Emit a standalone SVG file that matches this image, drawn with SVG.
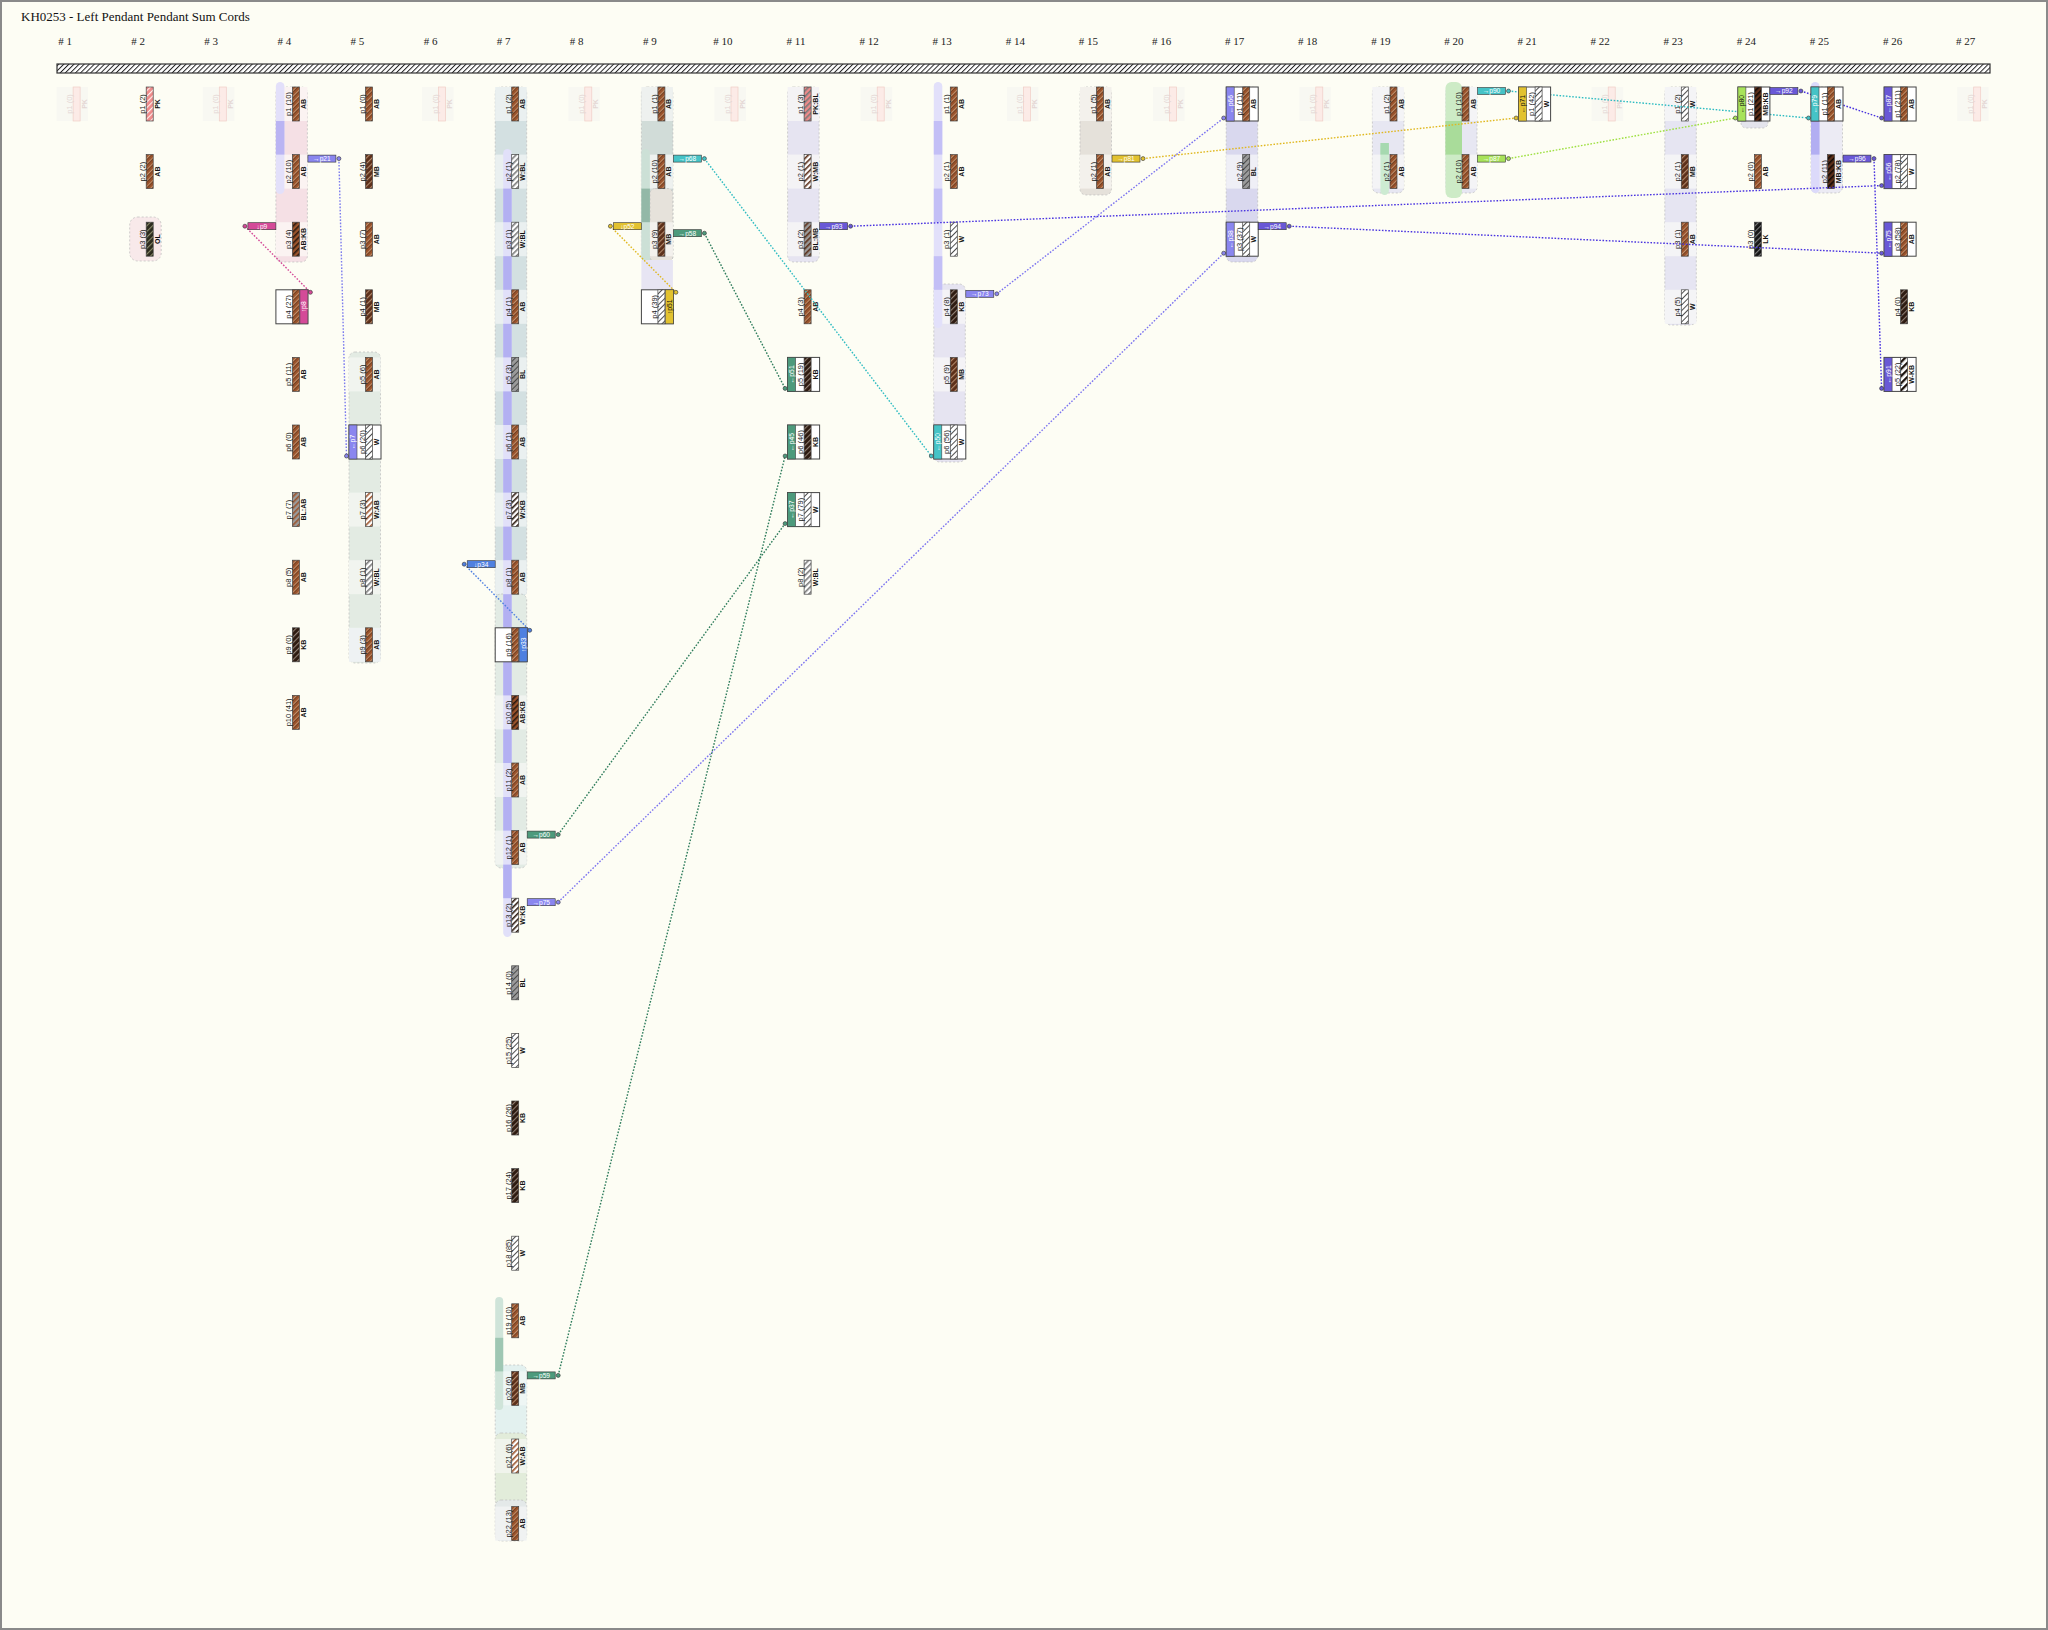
<svg xmlns="http://www.w3.org/2000/svg" width="2048" height="1630" viewBox="0 0 2048 1630">
<style>
.title{font:13px "Liberation Serif",serif;fill:#111}
.hdr{font:11px "Liberation Serif",serif;fill:#222;text-anchor:middle}
.pl{font:7.5px "Liberation Sans","DejaVu Sans",sans-serif;fill:#222;text-anchor:middle}
.cl{font:bold 7px "Liberation Sans","DejaVu Sans",sans-serif;fill:#111;text-anchor:middle}
.fz{fill:#e4d6d4}
.cord{stroke:#444;stroke-width:0.7}
.fcord{fill:#fcebe7;stroke:#f0cdc6;stroke-width:0.7}
.fbg{fill:#f8f8f2}
.box{fill:#fff;stroke:#444;stroke-width:1}
.band{stroke:#444;stroke-width:0.6}
.bt{font:6.8px "Liberation Sans","DejaVu Sans",sans-serif;fill:#fff;text-anchor:middle}
.bk{fill:#111}
.grp{stroke:#bcbcbc;stroke-width:0.7;stroke-dasharray:2 2}
.lab{stroke:#333;stroke-width:0.6}
.lt{font:6.6px "Liberation Sans","DejaVu Sans",sans-serif;fill:#fff;text-anchor:middle}
.conn line{fill:none;stroke-width:1.4;stroke-dasharray:1.6 1.6}
.dot{stroke:#333;stroke-width:0.6}
</style>
<defs>
<pattern id="pBar" width="3.6" height="3.6" patternUnits="userSpaceOnUse" patternTransform="rotate(45)"><rect width="3.6" height="3.6" fill="#fff"/><rect width="1" height="3.6" fill="#222"/></pattern>
<pattern id="pAB" width="4" height="4" patternUnits="userSpaceOnUse" patternTransform="rotate(45)"><rect width="4" height="4" fill="#9a532c"/><rect width="0.9" height="4" fill="#d9a47c"/><rect x="0.9" width="0.5" height="4" fill="#3a2010"/></pattern>
<pattern id="pMB" width="4" height="4" patternUnits="userSpaceOnUse" patternTransform="rotate(45)"><rect width="4" height="4" fill="#5c2f19"/><rect width="1.1" height="4" fill="#b38a6c"/></pattern>
<pattern id="pKB" width="4" height="4" patternUnits="userSpaceOnUse" patternTransform="rotate(45)"><rect width="4" height="4" fill="#2d1a10"/><rect width="1.1" height="4" fill="#8f7f74"/></pattern>
<pattern id="pW" width="4" height="4" patternUnits="userSpaceOnUse" patternTransform="rotate(45)"><rect width="4" height="4" fill="#fff"/><rect width="0.9" height="4" fill="#3a3a3a"/></pattern>
<pattern id="pBL" width="4" height="4" patternUnits="userSpaceOnUse" patternTransform="rotate(45)"><rect width="4" height="4" fill="#9a9a9a"/><rect width="1" height="4" fill="#4a4a4a"/></pattern>
<pattern id="pPK" width="4" height="4" patternUnits="userSpaceOnUse" patternTransform="rotate(45)"><rect width="4" height="4" fill="#ee8a8a"/><rect width="1.1" height="4" fill="#fff1ee"/></pattern>
<pattern id="pOL" width="4" height="4" patternUnits="userSpaceOnUse" patternTransform="rotate(45)"><rect width="4" height="4" fill="#2b2a1d"/><rect width="1.1" height="4" fill="#8d8c6c"/></pattern>
<pattern id="pLK" width="4" height="4" patternUnits="userSpaceOnUse" patternTransform="rotate(45)"><rect width="4" height="4" fill="#161616"/><rect width="1.1" height="4" fill="#7c7c7c"/></pattern>
<pattern id="pABKB" width="4" height="4" patternUnits="userSpaceOnUse" patternTransform="rotate(45)"><rect width="4" height="4" fill="#9a532c"/><rect width="1.6" height="4" fill="#2d1a10"/></pattern>
<pattern id="pBLAB" width="4" height="4" patternUnits="userSpaceOnUse" patternTransform="rotate(45)"><rect width="4" height="4" fill="#9a9a9a"/><rect width="1.6" height="4" fill="#9a532c"/></pattern>
<pattern id="pWAB" width="4" height="4" patternUnits="userSpaceOnUse" patternTransform="rotate(45)"><rect width="4" height="4" fill="#fff"/><rect width="1.6" height="4" fill="#9a532c"/></pattern>
<pattern id="pWBL" width="4" height="4" patternUnits="userSpaceOnUse" patternTransform="rotate(45)"><rect width="4" height="4" fill="#fff"/><rect width="1.6" height="4" fill="#7a7a7a"/></pattern>
<pattern id="pWKB" width="4" height="4" patternUnits="userSpaceOnUse" patternTransform="rotate(45)"><rect width="4" height="4" fill="#fff"/><rect width="1.6" height="4" fill="#2d1a10"/></pattern>
<pattern id="pPKBL" width="4" height="4" patternUnits="userSpaceOnUse" patternTransform="rotate(45)"><rect width="4" height="4" fill="#ee8a8a"/><rect width="1.6" height="4" fill="#7a7a7a"/></pattern>
<pattern id="pWMB" width="4" height="4" patternUnits="userSpaceOnUse" patternTransform="rotate(45)"><rect width="4" height="4" fill="#fff"/><rect width="1.6" height="4" fill="#5c2f19"/></pattern>
<pattern id="pBLMB" width="4" height="4" patternUnits="userSpaceOnUse" patternTransform="rotate(45)"><rect width="4" height="4" fill="#9a9a9a"/><rect width="1.6" height="4" fill="#5c2f19"/></pattern>
<pattern id="pMBKB" width="4" height="4" patternUnits="userSpaceOnUse" patternTransform="rotate(45)"><rect width="4" height="4" fill="#5c2f19"/><rect width="1.6" height="4" fill="#120a06"/></pattern>
<pattern id="pWdKB" width="5" height="5" patternUnits="userSpaceOnUse" patternTransform="rotate(45)"><rect width="5" height="5" fill="#fff"/><rect width="2.3" height="5" fill="#1a100a"/></pattern>
</defs>

<rect x="1" y="1" width="2046" height="1628" fill="#fdfdf4" stroke="#8a8a8a" stroke-width="2"/>
<text class="title" x="21" y="21">KH0253 - Left Pendant Pendant Sum Cords</text>

<g id="headers">
<text class="hdr" x="65" y="45"># 1</text><text class="hdr" x="138.1" y="45"># 2</text><text class="hdr" x="211.2" y="45"># 3</text><text class="hdr" x="284.3" y="45"># 4</text><text class="hdr" x="357.4" y="45"># 5</text><text class="hdr" x="430.5" y="45"># 6</text><text class="hdr" x="503.6" y="45"># 7</text><text class="hdr" x="576.7" y="45"># 8</text><text class="hdr" x="649.8" y="45"># 9</text><text class="hdr" x="722.9" y="45"># 10</text><text class="hdr" x="796" y="45"># 11</text><text class="hdr" x="869.1" y="45"># 12</text><text class="hdr" x="942.2" y="45"># 13</text><text class="hdr" x="1015.3" y="45"># 14</text><text class="hdr" x="1088.4" y="45"># 15</text><text class="hdr" x="1161.5" y="45"># 16</text><text class="hdr" x="1234.6" y="45"># 17</text><text class="hdr" x="1307.7" y="45"># 18</text><text class="hdr" x="1380.8" y="45"># 19</text><text class="hdr" x="1453.9" y="45"># 20</text><text class="hdr" x="1527" y="45"># 21</text><text class="hdr" x="1600.1" y="45"># 22</text><text class="hdr" x="1673.2" y="45"># 23</text><text class="hdr" x="1746.3" y="45"># 24</text><text class="hdr" x="1819.4" y="45"># 25</text><text class="hdr" x="1892.5" y="45"># 26</text><text class="hdr" x="1965.6" y="45"># 27</text>
</g>

<rect id="primary-cord" x="57" y="64" width="1933" height="9" fill="url(#pBar)" stroke="#333" stroke-width="1.2"/>

<g id="backgrounds">
<rect class="grp" x="129.7" y="217" width="31.5" height="44" rx="8" fill="#f8e9ea"/>
<rect class="grp" x="275.9" y="87" width="31.5" height="175" rx="6" fill="#f5e0e5"/>
<rect x="275.9" y="87" width="31.5" height="34" fill="#fbf3f2"/><rect x="275.9" y="154.6" width="31.5" height="34" fill="#fbf3f2"/><rect x="275.9" y="222.2" width="31.5" height="34" fill="#fbf3f2"/>
<rect x="275.9" y="82" width="8.5" height="112" rx="4.2" fill="#e3e0fa"/><rect x="275.9" y="121" width="8.5" height="33.6" fill="#bab4f3"/>
<rect class="grp" x="349" y="352" width="31.5" height="311" rx="6" fill="#e3ebe3"/>
<rect x="349" y="357.4" width="31.5" height="34" fill="#f1f4ef"/><rect x="349" y="492.6" width="31.5" height="34" fill="#f1f4ef"/><rect x="349" y="560.2" width="31.5" height="34" fill="#f1f4ef"/><rect x="349" y="627.8" width="31.5" height="34" fill="#eef2f3"/>
<rect class="grp" x="495.2" y="87" width="31.5" height="510" rx="6" fill="#d3e0e1"/>
<rect x="495.2" y="87" width="31.5" height="34" fill="#eaf0f0"/><rect x="495.2" y="154.6" width="31.5" height="34" fill="#eaf0f0"/><rect x="495.2" y="222.2" width="31.5" height="34" fill="#eaf0f0"/><rect x="495.2" y="289.8" width="31.5" height="34" fill="#eaf0f0"/><rect x="495.2" y="357.4" width="31.5" height="34" fill="#eaf0f0"/><rect x="495.2" y="425" width="31.5" height="34" fill="#eaf0f0"/><rect x="495.2" y="492.6" width="31.5" height="34" fill="#eaf0f0"/><rect x="495.2" y="560.2" width="31.5" height="34" fill="#eaf0f0"/>
<rect class="grp" x="495.2" y="594" width="31.5" height="274" rx="6" fill="#e2ebe4"/>
<rect x="495.2" y="695.4" width="31.5" height="34" fill="#f1f4f0"/><rect x="495.2" y="763" width="31.5" height="34" fill="#f1f4f0"/><rect x="495.2" y="830.6" width="31.5" height="34" fill="#f1f4f0"/>
<rect x="503.2" y="149" width="8.5" height="788" rx="4.2" fill="#e1e0f9"/>
<rect x="503.2" y="188.6" width="8.5" height="33.6" fill="#b3b0f2"/><rect x="503.2" y="256.2" width="8.5" height="33.6" fill="#b3b0f2"/><rect x="503.2" y="323.8" width="8.5" height="33.6" fill="#b3b0f2"/><rect x="503.2" y="391.4" width="8.5" height="33.6" fill="#b3b0f2"/><rect x="503.2" y="459" width="8.5" height="33.6" fill="#b3b0f2"/><rect x="503.2" y="526.6" width="8.5" height="33.6" fill="#b3b0f2"/><rect x="503.2" y="594.2" width="8.5" height="33.6" fill="#b3b0f2"/><rect x="503.2" y="661.8" width="8.5" height="33.6" fill="#b3b0f2"/><rect x="503.2" y="729.4" width="8.5" height="33.6" fill="#b3b0f2"/><rect x="503.2" y="797" width="8.5" height="33.6" fill="#b3b0f2"/><rect x="503.2" y="864.6" width="8.5" height="33.6" fill="#b3b0f2"/>
<rect class="grp" x="495.2" y="1365" width="31.5" height="74" rx="6" fill="#e3f1ef"/><rect x="495.2" y="1371.4" width="31.5" height="34" fill="#eef6f4"/>
<rect class="grp" x="495.2" y="1433" width="31.5" height="73" rx="6" fill="#e2ecda"/><rect x="495.2" y="1439" width="31.5" height="34" fill="#f0f4ec"/>
<rect class="grp" x="495.2" y="1500" width="31.5" height="41" rx="6" fill="#e4e9e9"/><rect x="495.2" y="1506.6" width="31.5" height="34" fill="#f0f2f2"/>
<rect x="495.2" y="1297" width="8" height="113" rx="4" fill="#cfe4d9"/><rect x="495.2" y="1337.8" width="8" height="33.6" fill="#9fc7b3"/>
<rect class="grp" x="641.4" y="87" width="31.5" height="175" rx="6" fill="#d1dcd8"/>
<rect x="641.4" y="87" width="31.5" height="34" fill="#eef1ef"/><rect x="641.4" y="154.6" width="31.5" height="34" fill="#eef1ef"/><rect x="641.4" y="222.2" width="31.5" height="34" fill="#eef1ef"/>
<rect class="grp" x="650" y="188.6" width="22.9" height="73" rx="5" fill="#e6e2db"/><rect x="650" y="222.2" width="22.9" height="34" fill="#f3f1ed"/>
<rect x="641.4" y="149" width="8.5" height="113" rx="4.2" fill="#cce0d6"/><rect x="641.4" y="188.6" width="8.5" height="33.6" fill="#93b8a7"/>
<rect x="641.4" y="260" width="31.5" height="30" fill="#e7e5f3"/>
<rect class="grp" x="787.6" y="87" width="31.5" height="175" rx="6" fill="#e6e4f1"/>
<rect x="787.6" y="87" width="31.5" height="34" fill="#f4f3f5"/><rect x="787.6" y="154.6" width="31.5" height="34" fill="#f4f3f5"/><rect x="787.6" y="222.2" width="31.5" height="34" fill="#f4f3f5"/>
<rect class="grp" x="933.8" y="284" width="31.5" height="178" rx="6" fill="#e6e4f1"/>
<rect x="933.8" y="289.8" width="31.5" height="34" fill="#f4f3f6"/><rect x="933.8" y="357.4" width="31.5" height="34" fill="#f4f3f6"/>
<rect x="933.8" y="82" width="8.5" height="246" rx="4.2" fill="#e2e0fa"/>
<rect x="933.8" y="121" width="8.5" height="33.6" fill="#c3bff6"/><rect x="933.8" y="188.6" width="8.5" height="33.6" fill="#c3bff6"/><rect x="933.8" y="256.2" width="8.5" height="33.6" fill="#c3bff6"/>
<rect class="grp" x="1080" y="87" width="31.5" height="108" rx="6" fill="#e5e1da"/>
<rect x="1080" y="87" width="31.5" height="34" fill="#f3f1ec"/><rect x="1080" y="154.6" width="31.5" height="34" fill="#f3f1ec"/>
<rect class="grp" x="1226.2" y="87" width="31.5" height="175" rx="6" fill="#d9d8ee"/>
<rect x="1226.2" y="154.6" width="31.5" height="34" fill="#efeff6"/>
<rect class="grp" x="1372.4" y="87" width="31.5" height="106" rx="6" fill="#e7e7f2"/>
<rect x="1372.4" y="87" width="31.5" height="34" fill="#f4f4f6"/><rect x="1372.4" y="154.6" width="31.5" height="34" fill="#f4f4f6"/>
<rect x="1380.4" y="143" width="8.5" height="52" rx="4.2" fill="#cdebd2"/><rect x="1380.4" y="143" width="8.5" height="11.6" fill="#a6d9b0"/>
<rect class="grp" x="1445.5" y="87" width="31.5" height="106" rx="6" fill="#e7e7f2"/>
<rect x="1445.5" y="87" width="31.5" height="34" fill="#f4f4f6"/><rect x="1445.5" y="154.6" width="31.5" height="34" fill="#f4f4f6"/>
<rect x="1445.5" y="82" width="16.5" height="116" rx="6" fill="#cdebc6"/><rect x="1445.5" y="121" width="16.5" height="33.6" fill="#a9dc9a"/>
<rect class="grp" x="1664.8" y="87" width="31.5" height="238" rx="6" fill="#e6e5f2"/>
<rect x="1664.8" y="87" width="31.5" height="34" fill="#f4f4f6"/><rect x="1664.8" y="154.6" width="31.5" height="34" fill="#f4f4f6"/><rect x="1664.8" y="222.2" width="31.5" height="34" fill="#f4f4f6"/><rect x="1664.8" y="289.8" width="31.5" height="34" fill="#f4f4f6"/>
<rect class="grp" x="1741" y="117" width="27" height="11" rx="5" fill="#e4e4ec"/>
<rect class="grp" x="1811" y="87" width="31.5" height="106" rx="6" fill="#ecebf4"/>
<rect x="1811" y="82" width="8.5" height="111" rx="4.2" fill="#dcdafa"/><rect x="1811" y="121" width="8.5" height="33.6" fill="#b2aef2"/>
</g>

<g id="faded">
<g id="n1-1" transform="translate(76.6,87)"><rect class="fbg" x="-20" width="31.5" height="34"/><rect class="fcord" x="-3.5" width="7" height="34"/><text class="pl fz" transform="translate(-4.5,17) rotate(-90)">p1 (0)</text><text class="cl fz" transform="translate(10,17) rotate(-90)">PK</text></g>
<g id="n3-1" transform="translate(222.8,87)"><rect class="fbg" x="-20" width="31.5" height="34"/><rect class="fcord" x="-3.5" width="7" height="34"/><text class="pl fz" transform="translate(-4.5,17) rotate(-90)">p1 (0)</text><text class="cl fz" transform="translate(10,17) rotate(-90)">PK</text></g>
<g id="n6-1" transform="translate(442.1,87)"><rect class="fbg" x="-20" width="31.5" height="34"/><rect class="fcord" x="-3.5" width="7" height="34"/><text class="pl fz" transform="translate(-4.5,17) rotate(-90)">p1 (0)</text><text class="cl fz" transform="translate(10,17) rotate(-90)">PK</text></g>
<g id="n8-1" transform="translate(588.3,87)"><rect class="fbg" x="-20" width="31.5" height="34"/><rect class="fcord" x="-3.5" width="7" height="34"/><text class="pl fz" transform="translate(-4.5,17) rotate(-90)">p1 (0)</text><text class="cl fz" transform="translate(10,17) rotate(-90)">PK</text></g>
<g id="n10-1" transform="translate(734.5,87)"><rect class="fbg" x="-20" width="31.5" height="34"/><rect class="fcord" x="-3.5" width="7" height="34"/><text class="pl fz" transform="translate(-4.5,17) rotate(-90)">p1 (0)</text><text class="cl fz" transform="translate(10,17) rotate(-90)">PK</text></g>
<g id="n12-1" transform="translate(880.7,87)"><rect class="fbg" x="-20" width="31.5" height="34"/><rect class="fcord" x="-3.5" width="7" height="34"/><text class="pl fz" transform="translate(-4.5,17) rotate(-90)">p1 (0)</text><text class="cl fz" transform="translate(10,17) rotate(-90)">PK</text></g>
<g id="n14-1" transform="translate(1026.9,87)"><rect class="fbg" x="-20" width="31.5" height="34"/><rect class="fcord" x="-3.5" width="7" height="34"/><text class="pl fz" transform="translate(-4.5,17) rotate(-90)">p1 (0)</text><text class="cl fz" transform="translate(10,17) rotate(-90)">PK</text></g>
<g id="n16-1" transform="translate(1173.1,87)"><rect class="fbg" x="-20" width="31.5" height="34"/><rect class="fcord" x="-3.5" width="7" height="34"/><text class="pl fz" transform="translate(-4.5,17) rotate(-90)">p1 (0)</text><text class="cl fz" transform="translate(10,17) rotate(-90)">PK</text></g>
<g id="n18-1" transform="translate(1319.3,87)"><rect class="fbg" x="-20" width="31.5" height="34"/><rect class="fcord" x="-3.5" width="7" height="34"/><text class="pl fz" transform="translate(-4.5,17) rotate(-90)">p1 (0)</text><text class="cl fz" transform="translate(10,17) rotate(-90)">PK</text></g>
<g id="n22-1" transform="translate(1611.7,87)"><rect class="fbg" x="-20" width="31.5" height="34"/><rect class="fcord" x="-3.5" width="7" height="34"/><text class="pl fz" transform="translate(-4.5,17) rotate(-90)">p1 (0)</text><text class="cl fz" transform="translate(10,17) rotate(-90)">PK</text></g>
<g id="n27-1" transform="translate(1977.2,87)"><rect class="fbg" x="-20" width="31.5" height="34"/><rect class="fcord" x="-3.5" width="7" height="34"/><text class="pl fz" transform="translate(-4.5,17) rotate(-90)">p1 (0)</text><text class="cl fz" transform="translate(10,17) rotate(-90)">PK</text></g>
</g>

<g id="pendants">
<g id="n2-1" transform="translate(149.7,87)"><rect class="cord" x="-3.5" width="7" height="34" fill="url(#pPK)"/><text class="pl" transform="translate(-4.5,17) rotate(-90)">p1 (2)</text><text class="cl" transform="translate(10,17) rotate(-90)">PK</text></g>
<g id="n2-2" transform="translate(149.7,154.6)"><rect class="cord" x="-3.5" width="7" height="34" fill="url(#pAB)"/><text class="pl" transform="translate(-4.5,17) rotate(-90)">p2 (2)</text><text class="cl" transform="translate(10,17) rotate(-90)">AB</text></g>
<g id="n2-3" transform="translate(149.7,222.2)"><rect class="cord" x="-3.5" width="7" height="34" fill="url(#pOL)"/><text class="pl" transform="translate(-4.5,17) rotate(-90)">p3 (3)</text><text class="cl" transform="translate(10,17) rotate(-90)">OL</text></g>
<g id="n4-1" transform="translate(295.9,87)"><rect class="cord" x="-3.5" width="7" height="34" fill="url(#pAB)"/><text class="pl" transform="translate(-4.5,17) rotate(-90)">p1 (10)</text><text class="cl" transform="translate(10,17) rotate(-90)">AB</text></g>
<g id="n4-2" transform="translate(295.9,154.6)"><rect class="cord" x="-3.5" width="7" height="34" fill="url(#pAB)"/><text class="pl" transform="translate(-4.5,17) rotate(-90)">p2 (10)</text><text class="cl" transform="translate(10,17) rotate(-90)">AB</text></g>
<g id="n4-3" transform="translate(295.9,222.2)"><rect class="cord" x="-3.5" width="7" height="34" fill="url(#pABKB)"/><text class="pl" transform="translate(-4.5,17) rotate(-90)">p3 (4)</text><text class="cl" transform="translate(10,17) rotate(-90)">AB:KB</text></g>
<g id="n4-5" transform="translate(295.9,357.4)"><rect class="cord" x="-3.5" width="7" height="34" fill="url(#pAB)"/><text class="pl" transform="translate(-4.5,17) rotate(-90)">p5 (11)</text><text class="cl" transform="translate(10,17) rotate(-90)">AB</text></g>
<g id="n4-6" transform="translate(295.9,425)"><rect class="cord" x="-3.5" width="7" height="34" fill="url(#pAB)"/><text class="pl" transform="translate(-4.5,17) rotate(-90)">p6 (0)</text><text class="cl" transform="translate(10,17) rotate(-90)">AB</text></g>
<g id="n4-7" transform="translate(295.9,492.6)"><rect class="cord" x="-3.5" width="7" height="34" fill="url(#pBLAB)"/><text class="pl" transform="translate(-4.5,17) rotate(-90)">p7 (7)</text><text class="cl" transform="translate(10,17) rotate(-90)">BL:AB</text></g>
<g id="n4-8" transform="translate(295.9,560.2)"><rect class="cord" x="-3.5" width="7" height="34" fill="url(#pAB)"/><text class="pl" transform="translate(-4.5,17) rotate(-90)">p8 (5)</text><text class="cl" transform="translate(10,17) rotate(-90)">AB</text></g>
<g id="n4-9" transform="translate(295.9,627.8)"><rect class="cord" x="-3.5" width="7" height="34" fill="url(#pKB)"/><text class="pl" transform="translate(-4.5,17) rotate(-90)">p9 (0)</text><text class="cl" transform="translate(10,17) rotate(-90)">KB</text></g>
<g id="n4-10" transform="translate(295.9,695.4)"><rect class="cord" x="-3.5" width="7" height="34" fill="url(#pAB)"/><text class="pl" transform="translate(-4.5,17) rotate(-90)">p10 (41)</text><text class="cl" transform="translate(10,17) rotate(-90)">AB</text></g>
<g id="n5-1" transform="translate(369,87)"><rect class="cord" x="-3.5" width="7" height="34" fill="url(#pAB)"/><text class="pl" transform="translate(-4.5,17) rotate(-90)">p1 (0)</text><text class="cl" transform="translate(10,17) rotate(-90)">AB</text></g>
<g id="n5-2" transform="translate(369,154.6)"><rect class="cord" x="-3.5" width="7" height="34" fill="url(#pMB)"/><text class="pl" transform="translate(-4.5,17) rotate(-90)">p2 (4)</text><text class="cl" transform="translate(10,17) rotate(-90)">MB</text></g>
<g id="n5-3" transform="translate(369,222.2)"><rect class="cord" x="-3.5" width="7" height="34" fill="url(#pAB)"/><text class="pl" transform="translate(-4.5,17) rotate(-90)">p3 (7)</text><text class="cl" transform="translate(10,17) rotate(-90)">AB</text></g>
<g id="n5-4" transform="translate(369,289.8)"><rect class="cord" x="-3.5" width="7" height="34" fill="url(#pMB)"/><text class="pl" transform="translate(-4.5,17) rotate(-90)">p4 (1)</text><text class="cl" transform="translate(10,17) rotate(-90)">MB</text></g>
<g id="n5-5" transform="translate(369,357.4)"><rect class="cord" x="-3.5" width="7" height="34" fill="url(#pAB)"/><text class="pl" transform="translate(-4.5,17) rotate(-90)">p5 (6)</text><text class="cl" transform="translate(10,17) rotate(-90)">AB</text></g>
<g id="n5-7" transform="translate(369,492.6)"><rect class="cord" x="-3.5" width="7" height="34" fill="url(#pWAB)"/><text class="pl" transform="translate(-4.5,17) rotate(-90)">p7 (3)</text><text class="cl" transform="translate(10,17) rotate(-90)">W:AB</text></g>
<g id="n5-8" transform="translate(369,560.2)"><rect class="cord" x="-3.5" width="7" height="34" fill="url(#pWBL)"/><text class="pl" transform="translate(-4.5,17) rotate(-90)">p8 (1)</text><text class="cl" transform="translate(10,17) rotate(-90)">W:BL</text></g>
<g id="n5-9" transform="translate(369,627.8)"><rect class="cord" x="-3.5" width="7" height="34" fill="url(#pAB)"/><text class="pl" transform="translate(-4.5,17) rotate(-90)">p9 (3)</text><text class="cl" transform="translate(10,17) rotate(-90)">AB</text></g>
<g id="n7-1" transform="translate(515.2,87)"><rect class="cord" x="-3.5" width="7" height="34" fill="url(#pAB)"/><text class="pl" transform="translate(-4.5,17) rotate(-90)">p1 (2)</text><text class="cl" transform="translate(10,17) rotate(-90)">AB</text></g>
<g id="n7-2" transform="translate(515.2,154.6)"><rect class="cord" x="-3.5" width="7" height="34" fill="url(#pWBL)"/><text class="pl" transform="translate(-4.5,17) rotate(-90)">p2 (1)</text><text class="cl" transform="translate(10,17) rotate(-90)">W:BL</text></g>
<g id="n7-3" transform="translate(515.2,222.2)"><rect class="cord" x="-3.5" width="7" height="34" fill="url(#pWBL)"/><text class="pl" transform="translate(-4.5,17) rotate(-90)">p3 (1)</text><text class="cl" transform="translate(10,17) rotate(-90)">W:BL</text></g>
<g id="n7-4" transform="translate(515.2,289.8)"><rect class="cord" x="-3.5" width="7" height="34" fill="url(#pAB)"/><text class="pl" transform="translate(-4.5,17) rotate(-90)">p4 (1)</text><text class="cl" transform="translate(10,17) rotate(-90)">AB</text></g>
<g id="n7-5" transform="translate(515.2,357.4)"><rect class="cord" x="-3.5" width="7" height="34" fill="url(#pBL)"/><text class="pl" transform="translate(-4.5,17) rotate(-90)">p5 (3)</text><text class="cl" transform="translate(10,17) rotate(-90)">BL</text></g>
<g id="n7-6" transform="translate(515.2,425)"><rect class="cord" x="-3.5" width="7" height="34" fill="url(#pAB)"/><text class="pl" transform="translate(-4.5,17) rotate(-90)">p6 (1)</text><text class="cl" transform="translate(10,17) rotate(-90)">AB</text></g>
<g id="n7-7" transform="translate(515.2,492.6)"><rect class="cord" x="-3.5" width="7" height="34" fill="url(#pWKB)"/><text class="pl" transform="translate(-4.5,17) rotate(-90)">p7 (3)</text><text class="cl" transform="translate(10,17) rotate(-90)">W:KB</text></g>
<g id="n7-8" transform="translate(515.2,560.2)"><rect class="cord" x="-3.5" width="7" height="34" fill="url(#pAB)"/><text class="pl" transform="translate(-4.5,17) rotate(-90)">p8 (1)</text><text class="cl" transform="translate(10,17) rotate(-90)">AB</text></g>
<g id="n7-10" transform="translate(515.2,695.4)"><rect class="cord" x="-3.5" width="7" height="34" fill="url(#pABKB)"/><text class="pl" transform="translate(-4.5,17) rotate(-90)">p10 (5)</text><text class="cl" transform="translate(10,17) rotate(-90)">AB:KB</text></g>
<g id="n7-11" transform="translate(515.2,763)"><rect class="cord" x="-3.5" width="7" height="34" fill="url(#pAB)"/><text class="pl" transform="translate(-4.5,17) rotate(-90)">p11 (2)</text><text class="cl" transform="translate(10,17) rotate(-90)">AB</text></g>
<g id="n7-12" transform="translate(515.2,830.6)"><rect class="cord" x="-3.5" width="7" height="34" fill="url(#pAB)"/><text class="pl" transform="translate(-4.5,17) rotate(-90)">p12 (1)</text><text class="cl" transform="translate(10,17) rotate(-90)">AB</text></g>
<g id="n7-13" transform="translate(515.2,898.2)"><rect class="cord" x="-3.5" width="7" height="34" fill="url(#pWKB)"/><text class="pl" transform="translate(-4.5,17) rotate(-90)">p13 (2)</text><text class="cl" transform="translate(10,17) rotate(-90)">W:KB</text></g>
<g id="n7-14" transform="translate(515.2,965.8)"><rect class="cord" x="-3.5" width="7" height="34" fill="url(#pBL)"/><text class="pl" transform="translate(-4.5,17) rotate(-90)">p14 (0)</text><text class="cl" transform="translate(10,17) rotate(-90)">BL</text></g>
<g id="n7-15" transform="translate(515.2,1033.4)"><rect class="cord" x="-3.5" width="7" height="34" fill="url(#pW)"/><text class="pl" transform="translate(-4.5,17) rotate(-90)">p15 (25)</text><text class="cl" transform="translate(10,17) rotate(-90)">W</text></g>
<g id="n7-16" transform="translate(515.2,1101)"><rect class="cord" x="-3.5" width="7" height="34" fill="url(#pKB)"/><text class="pl" transform="translate(-4.5,17) rotate(-90)">p16 (26)</text><text class="cl" transform="translate(10,17) rotate(-90)">KB</text></g>
<g id="n7-17" transform="translate(515.2,1168.6)"><rect class="cord" x="-3.5" width="7" height="34" fill="url(#pKB)"/><text class="pl" transform="translate(-4.5,17) rotate(-90)">p17 (24)</text><text class="cl" transform="translate(10,17) rotate(-90)">KB</text></g>
<g id="n7-18" transform="translate(515.2,1236.2)"><rect class="cord" x="-3.5" width="7" height="34" fill="url(#pW)"/><text class="pl" transform="translate(-4.5,17) rotate(-90)">p18 (85)</text><text class="cl" transform="translate(10,17) rotate(-90)">W</text></g>
<g id="n7-19" transform="translate(515.2,1303.8)"><rect class="cord" x="-3.5" width="7" height="34" fill="url(#pAB)"/><text class="pl" transform="translate(-4.5,17) rotate(-90)">p19 (10)</text><text class="cl" transform="translate(10,17) rotate(-90)">AB</text></g>
<g id="n7-20" transform="translate(515.2,1371.4)"><rect class="cord" x="-3.5" width="7" height="34" fill="url(#pMB)"/><text class="pl" transform="translate(-4.5,17) rotate(-90)">p20 (6)</text><text class="cl" transform="translate(10,17) rotate(-90)">MB</text></g>
<g id="n7-21" transform="translate(515.2,1439)"><rect class="cord" x="-3.5" width="7" height="34" fill="url(#pWAB)"/><text class="pl" transform="translate(-4.5,17) rotate(-90)">p21 (6)</text><text class="cl" transform="translate(10,17) rotate(-90)">W:AB</text></g>
<g id="n7-22" transform="translate(515.2,1506.6)"><rect class="cord" x="-3.5" width="7" height="34" fill="url(#pAB)"/><text class="pl" transform="translate(-4.5,17) rotate(-90)">p22 (13)</text><text class="cl" transform="translate(10,17) rotate(-90)">AB</text></g>
<g id="n9-1" transform="translate(661.4,87)"><rect class="cord" x="-3.5" width="7" height="34" fill="url(#pAB)"/><text class="pl" transform="translate(-4.5,17) rotate(-90)">p1 (1)</text><text class="cl" transform="translate(10,17) rotate(-90)">AB</text></g>
<g id="n9-2" transform="translate(661.4,154.6)"><rect class="cord" x="-3.5" width="7" height="34" fill="url(#pAB)"/><text class="pl" transform="translate(-4.5,17) rotate(-90)">p2 (10)</text><text class="cl" transform="translate(10,17) rotate(-90)">AB</text></g>
<g id="n9-3" transform="translate(661.4,222.2)"><rect class="cord" x="-3.5" width="7" height="34" fill="url(#pMB)"/><text class="pl" transform="translate(-4.5,17) rotate(-90)">p3 (9)</text><text class="cl" transform="translate(10,17) rotate(-90)">MB</text></g>
<g id="n11-1" transform="translate(807.6,87)"><rect class="cord" x="-3.5" width="7" height="34" fill="url(#pPKBL)"/><text class="pl" transform="translate(-4.5,17) rotate(-90)">p1 (3)</text><text class="cl" transform="translate(10,17) rotate(-90)">PK:BL</text></g>
<g id="n11-2" transform="translate(807.6,154.6)"><rect class="cord" x="-3.5" width="7" height="34" fill="url(#pWMB)"/><text class="pl" transform="translate(-4.5,17) rotate(-90)">p2 (1)</text><text class="cl" transform="translate(10,17) rotate(-90)">W:MB</text></g>
<g id="n11-3" transform="translate(807.6,222.2)"><rect class="cord" x="-3.5" width="7" height="34" fill="url(#pBLMB)"/><text class="pl" transform="translate(-4.5,17) rotate(-90)">p3 (2)</text><text class="cl" transform="translate(10,17) rotate(-90)">BL:MB</text></g>
<g id="n11-4" transform="translate(807.6,289.8)"><rect class="cord" x="-3.5" width="7" height="34" fill="url(#pAB)"/><text class="pl" transform="translate(-4.5,17) rotate(-90)">p4 (3)</text><text class="cl" transform="translate(10,17) rotate(-90)">AB</text></g>
<g id="n11-8" transform="translate(807.6,560.2)"><rect class="cord" x="-3.5" width="7" height="34" fill="url(#pWBL)"/><text class="pl" transform="translate(-4.5,17) rotate(-90)">p8 (2)</text><text class="cl" transform="translate(10,17) rotate(-90)">W:BL</text></g>
<g id="n13-1" transform="translate(953.8,87)"><rect class="cord" x="-3.5" width="7" height="34" fill="url(#pAB)"/><text class="pl" transform="translate(-4.5,17) rotate(-90)">p1 (1)</text><text class="cl" transform="translate(10,17) rotate(-90)">AB</text></g>
<g id="n13-2" transform="translate(953.8,154.6)"><rect class="cord" x="-3.5" width="7" height="34" fill="url(#pAB)"/><text class="pl" transform="translate(-4.5,17) rotate(-90)">p2 (1)</text><text class="cl" transform="translate(10,17) rotate(-90)">AB</text></g>
<g id="n13-3" transform="translate(953.8,222.2)"><rect class="cord" x="-3.5" width="7" height="34" fill="url(#pW)"/><text class="pl" transform="translate(-4.5,17) rotate(-90)">p3 (1)</text><text class="cl" transform="translate(10,17) rotate(-90)">W</text></g>
<g id="n13-4" transform="translate(953.8,289.8)"><rect class="cord" x="-3.5" width="7" height="34" fill="url(#pKB)"/><text class="pl" transform="translate(-4.5,17) rotate(-90)">p4 (8)</text><text class="cl" transform="translate(10,17) rotate(-90)">KB</text></g>
<g id="n13-5" transform="translate(953.8,357.4)"><rect class="cord" x="-3.5" width="7" height="34" fill="url(#pMB)"/><text class="pl" transform="translate(-4.5,17) rotate(-90)">p5 (9)</text><text class="cl" transform="translate(10,17) rotate(-90)">MB</text></g>
<g id="n15-1" transform="translate(1100,87)"><rect class="cord" x="-3.5" width="7" height="34" fill="url(#pAB)"/><text class="pl" transform="translate(-4.5,17) rotate(-90)">p1 (5)</text><text class="cl" transform="translate(10,17) rotate(-90)">AB</text></g>
<g id="n15-2" transform="translate(1100,154.6)"><rect class="cord" x="-3.5" width="7" height="34" fill="url(#pAB)"/><text class="pl" transform="translate(-4.5,17) rotate(-90)">p2 (1)</text><text class="cl" transform="translate(10,17) rotate(-90)">AB</text></g>
<g id="n17-2" transform="translate(1246.2,154.6)"><rect class="cord" x="-3.5" width="7" height="34" fill="url(#pBL)"/><text class="pl" transform="translate(-4.5,17) rotate(-90)">p2 (9)</text><text class="cl" transform="translate(10,17) rotate(-90)">BL</text></g>
<g id="n19-1" transform="translate(1393.5,87)"><rect class="cord" x="-3.5" width="7" height="34" fill="url(#pAB)"/><text class="pl" transform="translate(-4.5,17) rotate(-90)">p1 (2)</text><text class="cl" transform="translate(10,17) rotate(-90)">AB</text></g>
<g id="n19-2" transform="translate(1393.5,154.6)"><rect class="cord" x="-3.5" width="7" height="34" fill="url(#pAB)"/><text class="pl" transform="translate(-4.5,17) rotate(-90)">p2 (1)</text><text class="cl" transform="translate(10,17) rotate(-90)">AB</text></g>
<g id="n20-1" transform="translate(1465.5,87)"><rect class="cord" x="-3.5" width="7" height="34" fill="url(#pAB)"/><text class="pl" transform="translate(-4.5,17) rotate(-90)">p1 (10)</text><text class="cl" transform="translate(10,17) rotate(-90)">AB</text></g>
<g id="n20-2" transform="translate(1465.5,154.6)"><rect class="cord" x="-3.5" width="7" height="34" fill="url(#pAB)"/><text class="pl" transform="translate(-4.5,17) rotate(-90)">p2 (10)</text><text class="cl" transform="translate(10,17) rotate(-90)">AB</text></g>
<g id="n23-1" transform="translate(1684.8,87)"><rect class="cord" x="-3.5" width="7" height="34" fill="url(#pW)"/><text class="pl" transform="translate(-4.5,17) rotate(-90)">p1 (2)</text><text class="cl" transform="translate(10,17) rotate(-90)">W</text></g>
<g id="n23-2" transform="translate(1684.8,154.6)"><rect class="cord" x="-3.5" width="7" height="34" fill="url(#pMB)"/><text class="pl" transform="translate(-4.5,17) rotate(-90)">p2 (1)</text><text class="cl" transform="translate(10,17) rotate(-90)">MB</text></g>
<g id="n23-3" transform="translate(1684.8,222.2)"><rect class="cord" x="-3.5" width="7" height="34" fill="url(#pAB)"/><text class="pl" transform="translate(-4.5,17) rotate(-90)">p3 (1)</text><text class="cl" transform="translate(10,17) rotate(-90)">AB</text></g>
<g id="n23-4" transform="translate(1684.8,289.8)"><rect class="cord" x="-3.5" width="7" height="34" fill="url(#pW)"/><text class="pl" transform="translate(-4.5,17) rotate(-90)">p4 (5)</text><text class="cl" transform="translate(10,17) rotate(-90)">W</text></g>
<g id="n24-2" transform="translate(1757.9,154.6)"><rect class="cord" x="-3.5" width="7" height="34" fill="url(#pAB)"/><text class="pl" transform="translate(-4.5,17) rotate(-90)">p2 (0)</text><text class="cl" transform="translate(10,17) rotate(-90)">AB</text></g>
<g id="n24-3" transform="translate(1757.9,222.2)"><rect class="cord" x="-3.5" width="7" height="34" fill="url(#pLK)"/><text class="pl" transform="translate(-4.5,17) rotate(-90)">p3 (0)</text><text class="cl" transform="translate(10,17) rotate(-90)">LK</text></g>
<g id="n25-2" transform="translate(1831,154.6)"><rect class="cord" x="-3.5" width="7" height="34" fill="url(#pMBKB)"/><text class="pl" transform="translate(-4.5,17) rotate(-90)">p2 (11)</text><text class="cl" transform="translate(10,17) rotate(-90)">MB:KB</text></g>
<g id="n26-4" transform="translate(1904.1,289.8)"><rect class="cord" x="-3.5" width="7" height="34" fill="url(#pKB)"/><text class="pl" transform="translate(-4.5,17) rotate(-90)">p4 (0)</text><text class="cl" transform="translate(10,17) rotate(-90)">KB</text></g>
</g>

<g id="connectors" class="conn">
<line x1="338.9" y1="158.6" x2="346.5" y2="456" stroke="#7c7cee"/>
<line x1="244.9" y1="226.2" x2="310.4" y2="292.3" stroke="#d44a98"/>
<line x1="464.2" y1="564.2" x2="529.7" y2="630.3" stroke="#4f80e0"/>
<line x1="558.2" y1="834.6" x2="785.1" y2="523.6" stroke="#2f7d5c"/>
<line x1="558.2" y1="902.2" x2="1223.7" y2="253.2" stroke="#7c74f0"/>
<line x1="558.2" y1="1375.4" x2="785.1" y2="456" stroke="#2f7d5c"/>
<line x1="704.4" y1="158.6" x2="931.3" y2="456" stroke="#2fbcc2"/>
<line x1="610.4" y1="226.2" x2="675.9" y2="292.3" stroke="#e0b820"/>
<line x1="704.4" y1="233.2" x2="785.1" y2="388.4" stroke="#2f7d5c"/>
<line x1="850.6" y1="226.2" x2="1881.6" y2="185.6" stroke="#4a34e0"/>
<line x1="996.8" y1="293.8" x2="1223.7" y2="118" stroke="#7c74f0"/>
<line x1="1143" y1="158.6" x2="1516.1" y2="118" stroke="#e0b820"/>
<line x1="1289.2" y1="226.2" x2="1881.6" y2="253.2" stroke="#4a34e0"/>
<line x1="1508.5" y1="91" x2="1808.5" y2="118" stroke="#2fbcc2"/>
<line x1="1508.5" y1="158.6" x2="1735.4" y2="118" stroke="#9ee040"/>
<line x1="1800.9" y1="91" x2="1881.6" y2="118" stroke="#4a34e0"/>
<line x1="1874" y1="158.6" x2="1881.6" y2="388.4" stroke="#4a34e0"/>
<circle class="dot" cx="346.5" cy="456" r="2" fill="#8a86ef"/>
<circle class="dot" cx="310.4" cy="292.3" r="2" fill="#d44a98"/>
<circle class="dot" cx="529.7" cy="630.3" r="2" fill="#4f80e0"/>
<circle class="dot" cx="785.1" cy="523.6" r="2" fill="#4d9a7c"/>
<circle class="dot" cx="1223.7" cy="253.2" r="2" fill="#8a86ef"/>
<circle class="dot" cx="785.1" cy="456" r="2" fill="#4d9a7c"/>
<circle class="dot" cx="931.3" cy="456" r="2" fill="#45c3c6"/>
<circle class="dot" cx="675.9" cy="292.3" r="2" fill="#e2c230"/>
<circle class="dot" cx="785.1" cy="388.4" r="2" fill="#4d9a7c"/>
<circle class="dot" cx="1881.6" cy="185.6" r="2" fill="#6958d6"/>
<circle class="dot" cx="1223.7" cy="118" r="2" fill="#8a86ef"/>
<circle class="dot" cx="1516.1" cy="118" r="2" fill="#e2c230"/>
<circle class="dot" cx="1881.6" cy="253.2" r="2" fill="#6958d6"/>
<circle class="dot" cx="1808.5" cy="118" r="2" fill="#45c3c6"/>
<circle class="dot" cx="1735.4" cy="118" r="2" fill="#a8e35a"/>
<circle class="dot" cx="1881.6" cy="118" r="2" fill="#6958d6"/>
<circle class="dot" cx="1881.6" cy="388.4" r="2" fill="#6958d6"/>
</g>

<g id="sum-nodes">
<g id="n4-4" transform="translate(295.9,289.8)"><rect class="box" x="-20" width="32" height="34"/><rect class="cord" x="-3.5" width="7" height="34" fill="url(#pAB)"/><text class="pl" transform="translate(-4.5,17) rotate(-90)">p4 (27)</text><rect class="band" x="4" width="8" height="34" fill="#d44a98"/><text class="bt" transform="translate(10.4,17) rotate(-90)">↑p8</text></g>
<g id="n5-6" transform="translate(369,425)"><rect class="box" x="-20" width="32" height="34"/><rect class="band" x="-20" width="8" height="34" fill="#8a86ef"/><text class="bt" transform="translate(-13.6,17) rotate(-90)">←p7</text><rect class="cord" x="-3.5" width="7" height="34" fill="url(#pW)"/><text class="pl" transform="translate(-4.5,17) rotate(-90)">p6 (20)</text><text class="cl" transform="translate(10,17) rotate(-90)">W</text></g>
<g id="n7-9" transform="translate(515.2,627.8)"><rect class="box" x="-20" width="32" height="34"/><rect class="cord" x="-3.5" width="7" height="34" fill="url(#pAB)"/><text class="pl" transform="translate(-4.5,17) rotate(-90)">p9 (16)</text><rect class="band" x="4" width="8" height="34" fill="#4f80e0"/><text class="bt" transform="translate(10.4,17) rotate(-90)">↑p33</text></g>
<g id="n9-4" transform="translate(661.4,289.8)"><rect class="box" x="-20" width="32" height="34"/><rect class="cord" x="-3.5" width="7" height="34" fill="url(#pW)"/><text class="pl" transform="translate(-4.5,17) rotate(-90)">p4 (39)</text><rect class="band" x="4" width="8" height="34" fill="#e2c230"/><text class="bt bk" transform="translate(10.4,17) rotate(-90)">↑p51</text></g>
<g id="n11-5" transform="translate(807.6,357.4)"><rect class="box" x="-20" width="32" height="34"/><rect class="band" x="-20" width="8" height="34" fill="#4d9a7c"/><text class="bt" transform="translate(-13.6,17) rotate(-90)">←p51</text><rect class="cord" x="-3.5" width="7" height="34" fill="url(#pKB)"/><text class="pl" transform="translate(-4.5,17) rotate(-90)">p5 (19)</text><text class="cl" transform="translate(10,17) rotate(-90)">KB</text></g>
<g id="n11-6" transform="translate(807.6,425)"><rect class="box" x="-20" width="32" height="34"/><rect class="band" x="-20" width="8" height="34" fill="#4d9a7c"/><text class="bt" transform="translate(-13.6,17) rotate(-90)">←p45</text><rect class="cord" x="-3.5" width="7" height="34" fill="url(#pKB)"/><text class="pl" transform="translate(-4.5,17) rotate(-90)">p6 (46)</text><text class="cl" transform="translate(10,17) rotate(-90)">KB</text></g>
<g id="n11-7" transform="translate(807.6,492.6)"><rect class="box" x="-20" width="32" height="34"/><rect class="band" x="-20" width="8" height="34" fill="#4d9a7c"/><text class="bt" transform="translate(-13.6,17) rotate(-90)">←p37</text><rect class="cord" x="-3.5" width="7" height="34" fill="url(#pW)"/><text class="pl" transform="translate(-4.5,17) rotate(-90)">p7 (79)</text><text class="cl" transform="translate(10,17) rotate(-90)">W</text></g>
<g id="n13-6" transform="translate(953.8,425)"><rect class="box" x="-20" width="32" height="34"/><rect class="band" x="-20" width="8" height="34" fill="#45c3c6"/><text class="bt" transform="translate(-13.6,17) rotate(-90)">←p50</text><rect class="cord" x="-3.5" width="7" height="34" fill="url(#pW)"/><text class="pl" transform="translate(-4.5,17) rotate(-90)">p6 (56)</text><text class="cl" transform="translate(10,17) rotate(-90)">W</text></g>
<g id="n17-1" transform="translate(1246.2,87)"><rect class="box" x="-20" width="32" height="34"/><rect class="band" x="-20" width="8" height="34" fill="#8a86ef"/><text class="bt" transform="translate(-13.6,17) rotate(-90)">←p66</text><rect class="cord" x="-3.5" width="7" height="34" fill="url(#pAB)"/><text class="pl" transform="translate(-4.5,17) rotate(-90)">p1 (11)</text><text class="cl" transform="translate(10,17) rotate(-90)">AB</text></g>
<g id="n17-3" transform="translate(1246.2,222.2)"><rect class="box" x="-20" width="32" height="34"/><rect class="band" x="-20" width="8" height="34" fill="#8a86ef"/><text class="bt" transform="translate(-13.6,17) rotate(-90)">←p38</text><rect class="cord" x="-3.5" width="7" height="34" fill="url(#pW)"/><text class="pl" transform="translate(-4.5,17) rotate(-90)">p3 (37)</text><text class="cl" transform="translate(10,17) rotate(-90)">W</text></g>
<g id="n21-1" transform="translate(1538.6,87)"><rect class="box" x="-20" width="32" height="34"/><rect class="band" x="-20" width="8" height="34" fill="#e2c230"/><text class="bt bk" transform="translate(-13.6,17) rotate(-90)">←p71</text><rect class="cord" x="-3.5" width="7" height="34" fill="url(#pW)"/><text class="pl" transform="translate(-4.5,17) rotate(-90)">p1 (42)</text><text class="cl" transform="translate(10,17) rotate(-90)">W</text></g>
<g id="n24-1" transform="translate(1757.9,87)"><rect class="box" x="-20" width="32" height="34"/><rect class="band" x="-20" width="8" height="34" fill="#a8e35a"/><text class="bt bk" transform="translate(-13.6,17) rotate(-90)">←p80</text><rect class="cord" x="-3.5" width="7" height="34" fill="url(#pMBKB)"/><text class="pl" transform="translate(-4.5,17) rotate(-90)">p1 (21)</text><text class="cl" transform="translate(10,17) rotate(-90)">MB:KB</text></g>
<g id="n25-1" transform="translate(1831,87)"><rect class="box" x="-20" width="32" height="34"/><rect class="band" x="-20" width="8" height="34" fill="#45c3c6"/><text class="bt" transform="translate(-13.6,17) rotate(-90)">←p79</text><rect class="cord" x="-3.5" width="7" height="34" fill="url(#pAB)"/><text class="pl" transform="translate(-4.5,17) rotate(-90)">p1 (11)</text><text class="cl" transform="translate(10,17) rotate(-90)">AB</text></g>
<g id="n26-1" transform="translate(1904.1,87)"><rect class="box" x="-20" width="32" height="34"/><rect class="band" x="-20" width="8" height="34" fill="#6958d6"/><text class="bt" transform="translate(-13.6,17) rotate(-90)">←p87</text><rect class="cord" x="-3.5" width="7" height="34" fill="url(#pAB)"/><text class="pl" transform="translate(-4.5,17) rotate(-90)">p1 (211)</text><text class="cl" transform="translate(10,17) rotate(-90)">AB</text></g>
<g id="n26-2" transform="translate(1904.1,154.6)"><rect class="box" x="-20" width="32" height="34"/><rect class="band" x="-20" width="8" height="34" fill="#6958d6"/><text class="bt" transform="translate(-13.6,17) rotate(-90)">←p56</text><rect class="cord" x="-3.5" width="7" height="34" fill="url(#pW)"/><text class="pl" transform="translate(-4.5,17) rotate(-90)">p2 (78)</text><text class="cl" transform="translate(10,17) rotate(-90)">W</text></g>
<g id="n26-3" transform="translate(1904.1,222.2)"><rect class="box" x="-20" width="32" height="34"/><rect class="band" x="-20" width="8" height="34" fill="#6958d6"/><text class="bt" transform="translate(-13.6,17) rotate(-90)">←p75</text><rect class="cord" x="-3.5" width="7" height="34" fill="url(#pAB)"/><text class="pl" transform="translate(-4.5,17) rotate(-90)">p3 (58)</text><text class="cl" transform="translate(10,17) rotate(-90)">AB</text></g>
<g id="n26-5" transform="translate(1904.1,357.4)"><rect class="box" x="-20" width="32" height="34"/><rect class="band" x="-20" width="8" height="34" fill="#6958d6"/><text class="bt" transform="translate(-13.6,17) rotate(-90)">←p91</text><rect class="cord" x="-3.5" width="7" height="34" fill="url(#pWdKB)"/><text class="pl" transform="translate(-4.5,17) rotate(-90)">p5 (22)</text><text class="cl" transform="translate(10,17) rotate(-90)">W-KB</text></g>
</g>

<g id="link-labels">
<g id="l-p21"><rect class="lab" x="307.9" y="155.1" width="28" height="7" fill="#8a86ef"/><text class="lt" x="321.9" y="161">→p21</text><circle class="dot" cx="338.9" cy="158.6" r="2" fill="#8a86ef"/></g>
<g id="l-p9"><rect class="lab" x="247.9" y="222.7" width="28" height="7" fill="#d44a98"/><text class="lt" x="261.9" y="228.6">↓p9</text><circle class="dot" cx="244.9" cy="226.2" r="2" fill="#d44a98"/></g>
<g id="l-p34"><rect class="lab" x="467.2" y="560.7" width="28" height="7" fill="#4f80e0"/><text class="lt" x="481.2" y="566.6">↓p34</text><circle class="dot" cx="464.2" cy="564.2" r="2" fill="#4f80e0"/></g>
<g id="l-p60"><rect class="lab" x="527.2" y="831.1" width="28" height="7" fill="#4d9a7c"/><text class="lt" x="541.2" y="837">→p60</text><circle class="dot" cx="558.2" cy="834.6" r="2" fill="#4d9a7c"/></g>
<g id="l-p75"><rect class="lab" x="527.2" y="898.7" width="28" height="7" fill="#8a86ef"/><text class="lt" x="541.2" y="904.6">→p75</text><circle class="dot" cx="558.2" cy="902.2" r="2" fill="#8a86ef"/></g>
<g id="l-p59"><rect class="lab" x="527.2" y="1371.9" width="28" height="7" fill="#4d9a7c"/><text class="lt" x="541.2" y="1377.8">→p59</text><circle class="dot" cx="558.2" cy="1375.4" r="2" fill="#4d9a7c"/></g>
<g id="l-p68"><rect class="lab" x="673.4" y="155.1" width="28" height="7" fill="#45c3c6"/><text class="lt" x="687.4" y="161">→p68</text><circle class="dot" cx="704.4" cy="158.6" r="2" fill="#45c3c6"/></g>
<g id="l-p52"><rect class="lab" x="613.4" y="222.7" width="28" height="7" fill="#e2c230"/><text class="lt bk" x="627.4" y="228.6">↓p52</text><circle class="dot" cx="610.4" cy="226.2" r="2" fill="#e2c230"/></g>
<g id="l-p58"><rect class="lab" x="673.4" y="229.7" width="28" height="7" fill="#4d9a7c"/><text class="lt" x="687.4" y="235.6">→p58</text><circle class="dot" cx="704.4" cy="233.2" r="2" fill="#4d9a7c"/></g>
<g id="l-p93"><rect class="lab" x="819.6" y="222.7" width="28" height="7" fill="#6958d6"/><text class="lt" x="833.6" y="228.6">→p93</text><circle class="dot" cx="850.6" cy="226.2" r="2" fill="#6958d6"/></g>
<g id="l-p73"><rect class="lab" x="965.8" y="290.3" width="28" height="7" fill="#8a86ef"/><text class="lt" x="979.8" y="296.2">→p73</text><circle class="dot" cx="996.8" cy="293.8" r="2" fill="#8a86ef"/></g>
<g id="l-p81"><rect class="lab" x="1112" y="155.1" width="28" height="7" fill="#e2c230"/><text class="lt bk" x="1126" y="161">→p81</text><circle class="dot" cx="1143" cy="158.6" r="2" fill="#e2c230"/></g>
<g id="l-p94"><rect class="lab" x="1258.2" y="222.7" width="28" height="7" fill="#6958d6"/><text class="lt" x="1272.2" y="228.6">→p94</text><circle class="dot" cx="1289.2" cy="226.2" r="2" fill="#6958d6"/></g>
<g id="l-p90"><rect class="lab" x="1477.5" y="87.5" width="28" height="7" fill="#45c3c6"/><text class="lt" x="1491.5" y="93.4">→p90</text><circle class="dot" cx="1508.5" cy="91" r="2" fill="#45c3c6"/></g>
<g id="l-p87"><rect class="lab" x="1477.5" y="155.1" width="28" height="7" fill="#a8e35a"/><text class="lt bk" x="1491.5" y="161">→p87</text><circle class="dot" cx="1508.5" cy="158.6" r="2" fill="#a8e35a"/></g>
<g id="l-p92"><rect class="lab" x="1769.9" y="87.5" width="28" height="7" fill="#6958d6"/><text class="lt" x="1783.9" y="93.4">→p92</text><circle class="dot" cx="1800.9" cy="91" r="2" fill="#6958d6"/></g>
<g id="l-p96"><rect class="lab" x="1843" y="155.1" width="28" height="7" fill="#6958d6"/><text class="lt" x="1857" y="161">→p96</text><circle class="dot" cx="1874" cy="158.6" r="2" fill="#6958d6"/></g>
</g>
</svg>
